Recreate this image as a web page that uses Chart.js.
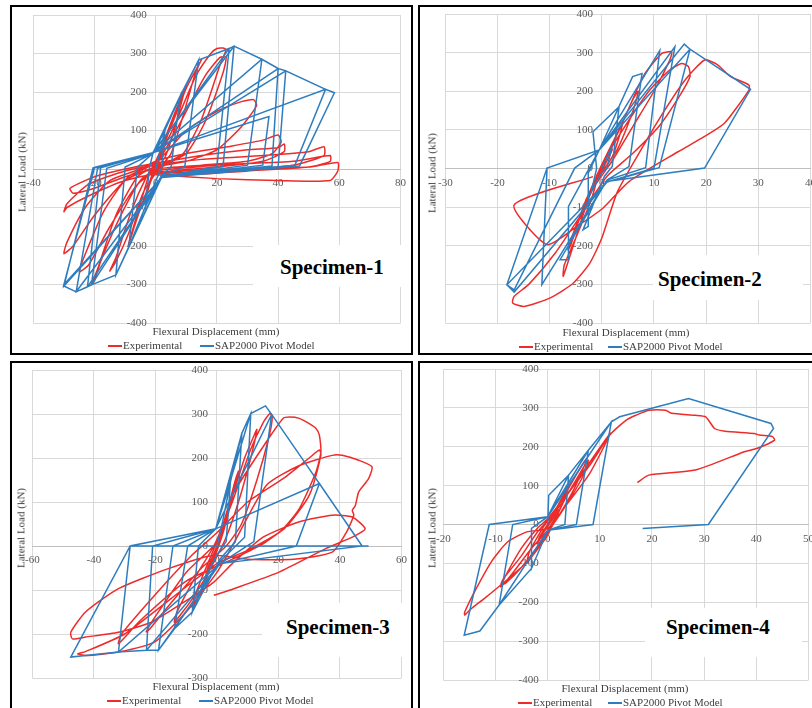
<!DOCTYPE html>
<html>
<head>
<meta charset="utf-8">
<script src="https://cdn.jsdelivr.net/npm/chart.js@4.4.1/dist/chart.umd.min.js"></script>
<style>
html, body { margin: 0; padding: 0; background: #fff; }
body { position: relative; width: 812px; height: 708px; overflow: hidden;
       font-family: "Liberation Serif", "Times New Roman", serif; color: #404040; }
.frame { position: absolute; border: 2px solid #000; box-sizing: border-box; }
canvas { position: absolute; }
.lbl { position: absolute; white-space: nowrap; font-size: 11px; line-height: 11px; }
.key { position: absolute; height: 2px; width: 14px; }
.specbox { position: absolute; background: #fff; }
.spec { position: absolute; white-space: nowrap; font-size: 21px; font-weight: bold; color: #000; line-height: 21px; }
</style>
</head>
<body>
<script>
// hysteresis curves, [displacement mm, load kN]
const s1Exp = [
  [0,0],[2,40],[4,90],[5,110],[3,80],[1,20],[0,0],[-2,-40],[-3,-70],[-4,-90],[-3,-60],[-1,-10],[0,10],
  [4,100],[8,180],[10,215],[9,190],[6,100],[3,30],[0,0],[-4,-80],[-7,-150],[-9,-200],[-8,-170],[-5,-90],[-2,-10],[0,20],
  [5,110],[10,210],[14,270],[15,285],[13,250],[9,140],[5,40],[1,0],[-4,-60],[-9,-170],[-13,-240],[-15,-265],[-13,-230],[-8,-110],[-3,-20],[0,15],
  [6,110],[13,240],[18,300],[20,313],[22,314],[23,310],[21,270],[15,130],[9,40],[2,10],[-5,-30],[-12,-130],[-18,-240],[-20,-290],[-21,-300],[-19,-260],[-13,-120],[-6,-20],[0,10],
  [8,120],[16,240],[21,290],[23,290],[22,250],[16,120],[10,40],[3,10],[-6,-40],[-15,-150],[-22,-250],[-25,-267],[-24,-240],[-17,-110],[-9,-20],[0,15],
  [10,100],[20,150],[28,175],[32,180],[33,165],[28,110],[20,50],[10,20],[0,5],[-10,-30],[-20,-120],[-27,-200],[-30,-220],[-29,-190],[-23,-100],[-15,-30],[-5,0],[0,20],
  [10,40],[25,60],[35,75],[40,88],[41,70],[38,40],[30,20],[15,10],[0,0],[-10,-20],[-20,-50],[-27,-63],[-28,-50],[-20,-20],[-10,0],[0,15],
  [15,35],[30,50],[40,55],[42,65],[42,45],[35,20],[20,5],[5,-5],[-10,-30],[-22,-70],[-29,-100],[-30,-111],[-29,-90],[-22,-40],[-10,-5],[0,10],
  [15,25],[35,35],[50,45],[55,58],[55,35],[45,10],[30,0],[10,-10],[0,-5],
  [20,10],[45,20],[57,35],[57,20],[50,5],[30,-5],[10,-15],[0,-10],
  [25,0],[50,5],[59.5,17],[59.5,-5],[57,-30],[40,-30],[20,-25],[0,-15]
];
const s1Sap = [
  [0,0],[3,100],[2,5],[1,-12],[-3.4,-98],[-2,5],[-1,38],
  [3,100],[8,190],[5,5],[2,-15],[-3.4,-98],[-8.8,-202],[-6,5],[-1,40],
  [8,190],[14,283],[9.5,6],[2,-18],[-8.8,-202],[-13,-275],[-10,5],[-1,40],
  [14,283],[24,313],[20,6],[2,-20],[-13,-275],[-21,-301],[-16,2],[-1,40],
  [24,313],[25.6,319],[22,6],[2,-20],[-21,-301],[-22.3,-306],[-18,3],[-1,42],
  [25.6,319],[34.7,285],[30,10],[2,-20],[-22.3,-306],[-26,-319],[-19,2],[-1,42],
  [34.7,285],[40,261],[38,8],[2,-22],[-26,-319],[-30,-304],[-20.5,2],[-1,42],
  [37,136],[35,10],[2,-22],[-30,-304],[-20.5,3],[-1,42],
  [40,261],[42.5,255],[40,6],[2,-22],[-30,-300],[-20,4],[-1,42],
  [42.5,255],[55.5,207],[45.5,10],[2,-22],[-30,-300],[-20,4],[-1,42],
  [55.5,207],[58.4,198],[47,8],[2,-22]
];
const s2Exp = [
  [0,0],[1,30],[2,50],[1,20],[0,-5],[-1,-30],[-2,-60],[-1,-30],[0,0],
  [2,60],[4,120],[3.5,90],[2,30],[0,-10],[-2,-60],[-4,-130],[-3,-90],[-1,-20],[0,10],
  [3,90],[6,180],[7,200],[6,150],[3,50],[0,-10],[-3,-80],[-6,-200],[-6.5,-210],[-5,-150],[-2,-50],[0,10],
  [4,120],[8,240],[11.5,298],[13.4,302],[13,280],[10,200],[6,110],[2,20],[-2,-60],[-5,-180],[-7.4,-279],[-7.2,-250],[-5,-180],[-2,-80],[0,10],
  [4,100],[9,200],[13,255],[15.3,272],[16.6,264],[16.9,238],[15,190],[11,110],[6,40],[1,-20],[-3,-100],[-9,-220],[-14,-300],[-16.8,-331],
  [-17.1,-348],[-14.9,-357],[-9.9,-335],[-5.5,-297],[-2.3,-245],[0,-180],[3,-60],[8,60],[12,150],[16,230],[19.7,281],[22,270],
  [24.7,238],[28.2,216],[28.2,203],[23.5,117],[19.7,83],[14.7,44],[5.2,-34],[0.2,-103],[-4.8,-150],[-10.5,-197],[-16.8,-94],[-1.7,-21]
];
const s2Sap = [
  [0,0],[2,60],[1,2],[0,-10],[-2,-60],[-1,0],[-1.7,95],
  [3.3,160],[2,5],[0.5,-20],[-3.6,-159],[-2.6,-150],[-2.6,-12],[-0.5,48],
  [5.9,238],[7.7,246],[5.2,5],[1,-30],[-8,-236],[-6.4,-236],[-6.4,-98],[-0.5,48],
  [11.1,305],[8.4,2],[1,-30],[-11.5,-301],[-10.5,1],[-0.5,48],
  [14,315],[10,1],[1,-35],[-16.8,-320],[-18.2,-301],[-10.5,1],[-0.5,48],
  [15.8,322],[16.9,309],[11,2],[1,-35],[-18.2,-301],[-16.8,-314],[-5.2,1],[-0.5,48],
  [16.9,309],[28.5,205],[19.7,1],[0.5,-34]
];
const s3Exp = [
  [0,0],[2,40],[4,90],[3,60],[1,10],[-1,-20],[-3,-60],[-4,-80],[-3,-50],[0,0],
  [3,70],[6,150],[7,170],[5,110],[2,30],[-1,-30],[-5,-100],[-8,-140],[-7,-110],[-3,-40],[0,10],
  [4,90],[9,200],[12,250],[13,265],[11,200],[7,100],[3,20],[-2,-50],[-8,-120],[-13.8,-173],[-13,-150],[-7,-70],[-1,0],
  [5,100],[11,220],[15,280],[17.2,301],[18,295],[17,250],[13,150],[8,50],[3,0],[-5,-50],[-15,-130],[-22,-190],[-23,-195],[-20,-160],[-10,-60],[0,10],
  [5,115],[16.1,237],[21.5,290],[23.6,293],[26.8,290],[30,278],[32.2,267],[33.3,252],[33.8,214],[32.2,168],[26.8,85],[21.5,39],[15,5],[5,-30],
  [-10,-80],[-25,-170],[-32,-222],[-31,-200],[-20,-110],[-8,-20],[0,30],
  [10,100],[21.5,153],[30,200],[33.3,218],[33.8,206],[30,115],[22,40],[10,-10],[0,-40],[-15,-120],[-30,-200],[-42.7,-240],[-45.3,-245],
  [-42.7,-249],[-32,-241],[-20.2,-218],[-10,-150],[0,-60],[5,0],
  [16.1,138],[26.8,183],[37.5,206],[40.7,206],[46.1,195],[50.4,180],[49.3,153],[46.1,123],[45,92],[44,81],[44.5,70],[42,30],[37.5,-14],
  [25,-30],[10,-30],[-1,-21],[-16,-52],[-32,-97],[-42.7,-150],[-47.5,-196],[-47,-211],[-42.7,-207],[-32,-196],[-21.3,-173],[-10.6,-127],
  [-1,-82],[5,-40],[15,20],[26.8,55],[37.5,70],[44,66],[48.2,39],[44,20],[35.4,-6],[20,-60],[5.5,-97],[-1,-112]
];
const s3Sap = [
  [0,0],[2,60],[4.4,146],[3,10],[0,-20],[-3,-60],[-8,-150],[-6,0],[-0.4,39],
  [4.4,146],[8.1,256],[6,10],[1,-30],[-8,-150],[-13.8,-188],[-9.5,0],[-0.4,39],
  [8.1,256],[11,301],[9,20],[1,-35],[-13.8,-188],[-19,-237],[-14.3,0],[-0.4,39],
  [11,301],[15.8,318.5],[17.8,299],[12,10],[1,-40],[-19,-237],[-22.9,-237],[-20.9,0],[-0.4,39],
  [17.8,299],[33.3,142],[25.8,0],[1,-40],[-22.9,-237],[-32,-241],[-28.2,0],[-0.4,39],
  [33.3,142],[47.2,0],[1,-40],[-32,-241],[-47.5,-252.5],[-28.2,0],[49.3,0]
];
const s4Exp = [
  [0,0],[1,20],[2,40],[1.5,25],[0,-5],[-1,-25],[-2,-50],[-1.5,-30],[0,0],
  [2,50],[4,100],[3.5,80],[2,30],[0,-15],[-3,-80],[-4,-100],[-3.5,-70],[-1,-10],[0,10],
  [3,70],[6,140],[7.5,170],[7,150],[5,90],[2,20],[-1,-40],[-5,-110],[-8,-150],[-9,-156],[-8.5,-140],[-5,-80],[-2,-20],[0,10],
  [3,60],[7,150],[7.8,165],[7,130],[4,60],[1,0],[-3,-60],[-7,-130],[-9,-160],[-8,-130],[-5,-60],[-2,-10],[0,15],
  [6,120],[12,235],[8,130],[3,40],[0,-10],
  [-4,-19],[-7.7,-45],[-10.8,-96],[-13.7,-165],[-15.9,-225],[-15.9,-233],[-14.6,-216],[-12.1,-190],[-8.3,-148],[-3.9,-96],[0,-27],
  [3.7,75],[8.1,153],[11.9,230],[15,268],[16.9,281],[19.4,294],[22.6,294],[23.8,286],[28.3,281],[30.3,277],[32,247],[34,240],
  [39.6,234],[40.6,230],[43.1,226],[43.5,217],[40.2,196],[37.7,187],[28.3,140],[19.4,127],[17.2,108]
];
const s4Sap = [
  [0,0],[0.2,75],[4,127],[3.3,0],[0,-15],[-3.1,-113],[-3.1,-10],[0,20],
  [4,127],[7.8,191],[5.5,0],[0,-15],[-3.1,-113],[-9.3,-207],[-6.7,0],[0,20],
  [7.8,191],[12.2,264],[8.7,0],[0,-15],[-9.3,-207],[-13,-274],[-16,-285],[-11.2,0],[0,20],
  [12.2,264],[13.8,277],[27,324],[42.8,260],[43.3,247],[30.8,0],[18.2,-10]
];

const seriesNames = ['Experimental', 'SAP2000 Pivot Model'];
const specimenNames = ['Specimen-1', 'Specimen-2', 'Specimen-3', 'Specimen-4'];
const xTitle = 'Flexural Displacement (mm)';
const yTitle = 'Lateral Load (kN)';

const RED = '#ee2b2b';
const BLUE = '#2e7dbf';

// page layout of each panel
const panels = [
  { frame: [10, 5, 403, 350], area: [30, 15, 402, 323], x: [-40, 80, 20], y: [-400, 400, 100],
    exp: s1Exp, sap: s1Sap, yT: [22, 172], xT: [216, 331], leg: [108, 200, 346],
    box: [253, 245, 157, 42], spec: [280, 268] },
  { frame: [418, 5, 400, 350], area: [442, 14, 812, 323], x: [-30, 40, 10], y: [-400, 400, 100],
    exp: s2Exp, sap: s2Sap, yT: [432, 173], xT: [626, 332], leg: [519, 608, 347],
    box: [653, 255, 150, 45], spec: [658, 280] },
  { frame: [10, 361, 403, 360], area: [29, 370, 403, 678], x: [-60, 60, 20], y: [-300, 400, 100],
    exp: s3Exp, sap: s3Sap, yT: [21, 528], xT: [216, 686], leg: [107, 199, 701],
    box: [262, 603, 148, 54], spec: [286, 628] },
  { frame: [418, 361, 400, 360], area: [440, 369, 810, 680], x: [-20, 50, 10], y: [-400, 400, 100],
    exp: s4Exp, sap: s4Sap, yT: [432, 528], xT: [625, 688], leg: [518, 608, 703],
    box: [645, 608, 157, 49], spec: [666, 628] }
];

function toPts(arr) {
    return arr.map(p => ({ x: p[0], y: p[1] }));
}

function addDiv(cls, text, css) {
    const d = document.createElement('div');
    d.className = cls;
    if (text) d.textContent = text;
    Object.assign(d.style, css);
    document.body.appendChild(d);
    return d;
}

function buildPanel(p, i) {
    const [fl, ft, fw, fh] = p.frame;
    addDiv('frame', '', { left: fl + 'px', top: ft + 'px', width: fw + 'px', height: fh + 'px' });

    const [l, t, r, b] = p.area;
    const pad = 12;
    const cv = document.createElement('canvas');
    cv.width = r - l + 2 * pad;
    cv.height = b - t + 2 * pad;
    cv.style.left = (l - pad) + 'px';
    cv.style.top = (t - pad) + 'px';
    document.body.appendChild(cv);

    // y labels sit 9px left of the zero line, like the Excel original
    const labelShift = 9 * (p.x[1] - p.x[0]) / (r - l);

    const tickFont = { family: '"Liberation Serif", "Times New Roman", serif', size: 11 };
    new Chart(cv, {
        type: 'scatter',
        data: {
            datasets: [{
                label: seriesNames[0],
                data: toPts(p.exp),
                showLine: true,
                borderColor: RED,
                borderWidth: 1.5,
                pointRadius: 0,
                tension: 0.2,
                order: 2
            }, {
                label: seriesNames[1],
                data: toPts(p.sap),
                showLine: true,
                borderColor: BLUE,
                borderWidth: 1.5,
                pointRadius: 0,
                tension: 0,
                order: 1
            }]
        },
        options: {
            responsive: false,
            animation: false,
            events: [],
            layout: { padding: pad },
            plugins: { legend: { display: false }, tooltip: { enabled: false } },
            scales: {
                x: {
                    type: 'linear', min: p.x[0], max: p.x[1], position: { y: 0 },
                    ticks: { stepSize: p.x[2], autoSkip: false, maxRotation: 0, font: tickFont, color: '#595959', padding: 8 },
                    grid: { color: '#d9d9d9', drawTicks: false },
                    border: { color: '#bfbfbf' }
                },
                y: {
                    type: 'linear', min: p.y[0], max: p.y[1], position: { x: -labelShift },
                    ticks: { stepSize: p.y[2], autoSkip: false, font: tickFont, color: '#595959' },
                    grid: { color: '#d9d9d9', drawTicks: false },
                    border: { display: false }
                }
            }
        }
    });

    addDiv('lbl', yTitle, { left: p.yT[0] + 'px', top: p.yT[1] + 'px',
        transform: 'translate(-50%, -50%) rotate(-90deg)' });
    addDiv('lbl', xTitle, { left: p.xT[0] + 'px', top: p.xT[1] + 'px', transform: 'translate(-50%, -50%)' });

    const [rx, bx, ly] = p.leg;
    addDiv('key', '', { left: rx + 'px', top: (ly - 1) + 'px', background: RED });
    addDiv('lbl', seriesNames[0], { left: (rx + 15) + 'px', top: (ly - 6) + 'px' });
    addDiv('key', '', { left: bx + 'px', top: (ly - 1) + 'px', background: BLUE });
    addDiv('lbl', seriesNames[1], { left: (bx + 15) + 'px', top: (ly - 6) + 'px' });

    const [bl, bt, bw, bh] = p.box;
    addDiv('specbox', '', { left: bl + 'px', top: bt + 'px', width: bw + 'px', height: bh + 'px' });
    addDiv('spec', specimenNames[i], { left: p.spec[0] + 'px', top: (p.spec[1] - 11) + 'px' });
}

panels.forEach(buildPanel);
</script>
</body>
</html>
